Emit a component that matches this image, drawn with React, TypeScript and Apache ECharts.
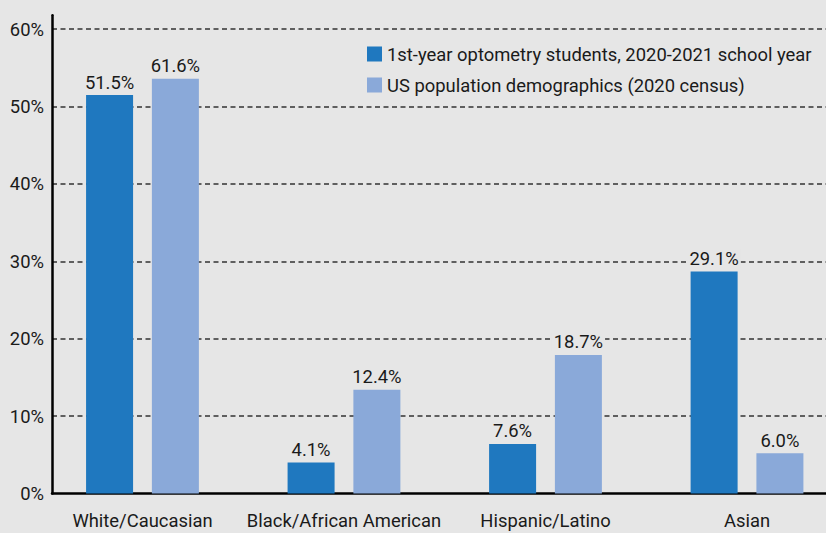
import React, { useEffect, useRef } from "react";
import * as echarts from "echarts";

const categories = ["White/Caucasian", "Black/African American", "Hispanic/Latino", "Asian"];
const categoryPositions = [0, 1, 2, 3];
const seriesNames = [
  "1st-year optometry students, 2020-2021 school year",
  "US population demographics (2020 census)",
];
// bar heights as drawn in the reference (percent)
const studentBarValues = [51.5, 4.0, 6.4, 28.7];
const censusBarValues = [53.6, 13.4, 17.9, 5.2];
// value labels as printed in the reference
const studentLabels = ["51.5%", "4.1%", "7.6%", "29.1%"];
const censusLabels = ["61.6%", "12.4%", "18.7%", "6.0%"];
const yMin = 0;
const yMax = 61.8;
const yInterval = 10;

const FONT = "Roboto, 'Noto Sans', sans-serif";
const FS = 18.4;
const TEXT = "#1a1a1a";
const BG = "#e6e6e6";
const DARK = "#1f78bf";
const LIGHT = "#8aa9d9";

export default function App() {
  const ref = useRef<HTMLDivElement>(null);
  useEffect(() => {
    if (!ref.current) return;
    const chart = echarts.init(ref.current, undefined, { renderer: "svg" });
    const mkLabel = (labels: string[]) => ({
      show: true,
      position: "top" as const,
      distance: 4,
      color: TEXT,
      fontSize: FS,
      fontFamily: FONT,
      backgroundColor: BG,
      padding: [0, 2],
      formatter: (p: any) => labels[p.dataIndex],
    });
    chart.setOption({
      animation: false,
      backgroundColor: BG,
      textStyle: { fontFamily: FONT },
      grid: { left: 52, right: 0, top: 15.3, bottom: 39.5, containLabel: false },
      legend: {
        orient: "vertical",
        left: 362,
        top: 40,
        itemWidth: 15,
        itemHeight: 15,
        itemGap: 13,
        icon: "rect",
        textStyle: { color: TEXT, fontSize: FS, fontFamily: FONT },
        data: seriesNames,
      },
      xAxis: {
        type: "value",
        min: -0.449,
        max: 3.392,
        axisLine: { show: true, onZero: false, lineStyle: { color: "#000", width: 2.5 } },
        axisTick: { show: false },
        splitLine: { show: false },
        axisLabel: {
          customValues: categoryPositions,
          formatter: (v: number) => categories[Math.round(v)] ?? "",
          color: TEXT,
          fontSize: FS,
          fontFamily: FONT,
          margin: 18,
        },
      },
      yAxis: {
        type: "value",
        min: yMin,
        max: yMax,
        interval: yInterval,
        axisLine: { show: true, onZero: false, lineStyle: { color: "#000", width: 2.5 } },
        axisTick: { show: false },
        axisLabel: {
          formatter: "{value}%",
          showMaxLabel: false,
          color: TEXT,
          fontSize: FS,
          fontFamily: FONT,
          margin: 8,
        },
        splitLine: {
          show: true,
          showMinLine: false,
          showMaxLine: false,
          lineStyle: { color: "#333", width: 1.5, type: [5, 3.5] },
        },
      },
      series: [
        {
          name: seriesNames[0],
          type: "bar",
          barWidth: 47,
          barGap: "40%",
          itemStyle: { color: DARK },
          label: mkLabel(studentLabels),
          data: categoryPositions.map((x, i) => [x, studentBarValues[i]]),
        },
        {
          name: seriesNames[1],
          type: "bar",
          barWidth: 47,
          barGap: "40%",
          itemStyle: { color: LIGHT },
          label: mkLabel(censusLabels),
          data: categoryPositions.map((x, i) => [x, censusBarValues[i]]),
        },
      ],
    });
    return () => chart.dispose();
  }, []);
  return (
    <div
      ref={ref}
      style={{ position: "absolute", left: 0, top: 0, width: 826, height: 533 }}
    />
  );
}
